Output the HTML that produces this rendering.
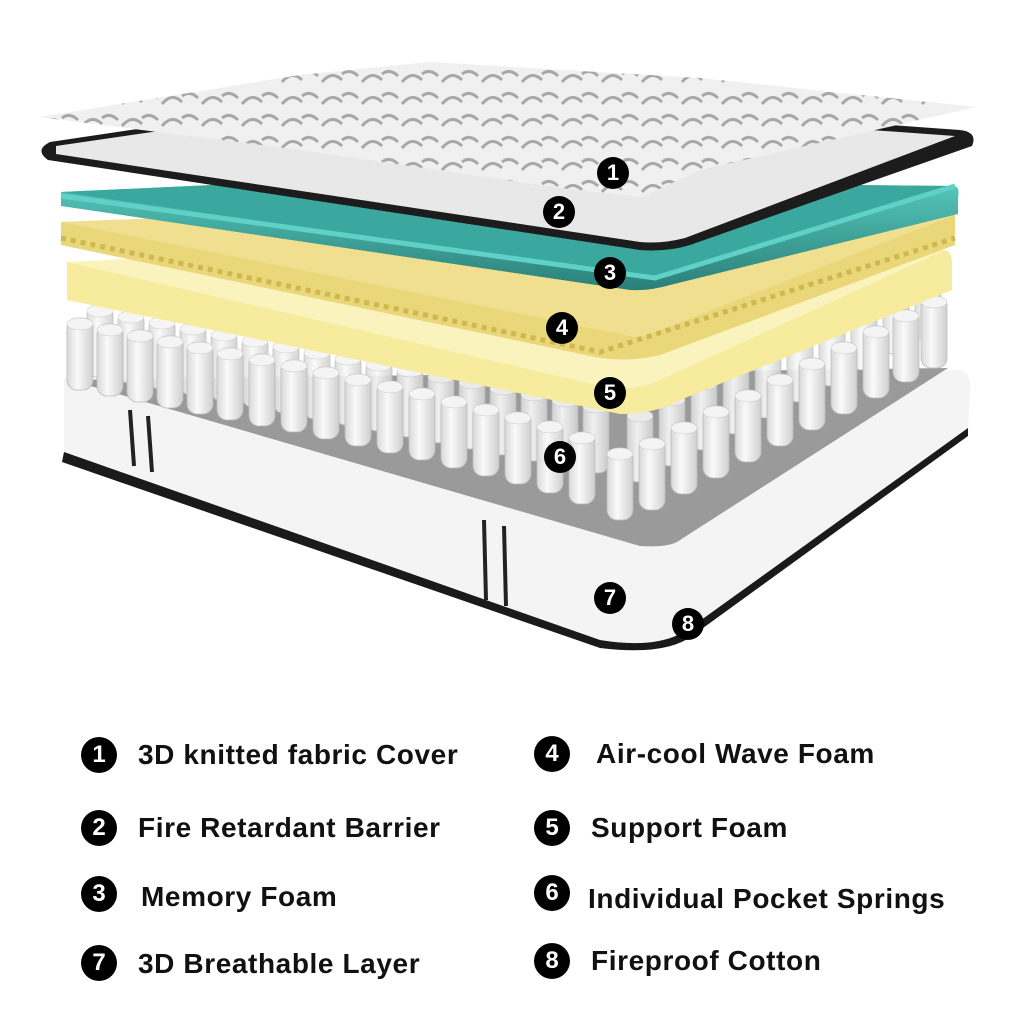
<!DOCTYPE html>
<html><head><meta charset="utf-8"><style>
body{margin:0;background:#fff;width:1024px;height:1024px;overflow:hidden;font-family:"Liberation Sans",sans-serif}
.lg{position:absolute;font-weight:bold;font-size:28px;letter-spacing:0.6px;color:#111;white-space:nowrap}
.c{position:absolute;width:36px;height:36px;border-radius:50%;background:#000;color:#fff;font-weight:bold;font-size:24px;text-align:center;line-height:36px}
.d{width:32px;height:32px;line-height:32px;font-size:22px}
</style></head><body>
<svg width="1024" height="1024" style="position:absolute;left:0;top:0">
<defs>
<linearGradient id="sp" x1="0" x2="1"><stop offset="0" stop-color="#d8d8d8"/><stop offset=".4" stop-color="#fafafa"/><stop offset="1" stop-color="#cfcfcf"/></linearGradient>
<g id="s"><rect x="-13" y="0" width="26" height="72" rx="10" fill="url(#sp)" stroke="#bbb" stroke-width="0.8"/><ellipse cx="0" cy="6" rx="13" ry="6" fill="#f4f4f4" stroke="#ccc" stroke-width="0.6"/></g>
<pattern id="q" width="40" height="22" patternUnits="userSpaceOnUse"><rect width="40" height="22" fill="#f0f0f0"/><path d="M2 16 Q12 4 22 14 M22 8 Q30 2 38 10" stroke="#a8a8a8" stroke-width="3" fill="none"/></pattern>
<linearGradient id="tg" x1="0" y1="0" x2="0" y2="1"><stop offset="0" stop-color="#57c9bd"/><stop offset="1" stop-color="#2a7f78"/></linearGradient>
</defs>
<!-- base -->
<path d="M64 378 L960 370 Q972 374 970 390 L968 432 L690 630 Q675 645 650 644 L600 642 L64 458 Z" fill="#f4f4f4"/>
<path d="M64 452 L600 640 Q660 650 690 628 L968 428 L968 436 L692 636 Q665 656 600 648 L62 462 Z" fill="#1a1a1a"/>
<path d="M70 380 L948 368 L680 540 Q670 548 640 546 Z" fill="#9a9a9a"/>
<path d="M130 410 L134 466 M148 416 L152 472 M484 520 L486 600 M504 526 L506 606" stroke="#222" stroke-width="4"/>
<!-- back springs -->
<g opacity=".9">
<use href="#s" x="100" y="305"/><use href="#s" x="131" y="311"/><use href="#s" x="162" y="317"/><use href="#s" x="193" y="323"/><use href="#s" x="224" y="329"/><use href="#s" x="255" y="335"/><use href="#s" x="286" y="341"/><use href="#s" x="317" y="347"/><use href="#s" x="348" y="353"/><use href="#s" x="379" y="359"/><use href="#s" x="410" y="365"/><use href="#s" x="441" y="371"/><use href="#s" x="472" y="377"/><use href="#s" x="503" y="383"/><use href="#s" x="534" y="389"/><use href="#s" x="565" y="395"/><use href="#s" x="596" y="401"/>
<use href="#s" x="640" y="410"/><use href="#s" x="672" y="394"/><use href="#s" x="704" y="378"/><use href="#s" x="736" y="362"/><use href="#s" x="768" y="346"/><use href="#s" x="800" y="330"/><use href="#s" x="832" y="314"/><use href="#s" x="864" y="298"/><use href="#s" x="896" y="282"/><use href="#s" x="928" y="268"/>
</g>
<!-- front springs -->
<use href="#s" x="80" y="318"/><use href="#s" x="110" y="324"/><use href="#s" x="140" y="330"/><use href="#s" x="170" y="336"/><use href="#s" x="200" y="342"/><use href="#s" x="230" y="348"/><use href="#s" x="262" y="354"/><use href="#s" x="294" y="360"/><use href="#s" x="326" y="367"/><use href="#s" x="358" y="374"/><use href="#s" x="390" y="381"/><use href="#s" x="422" y="388"/><use href="#s" x="454" y="396"/><use href="#s" x="486" y="404"/><use href="#s" x="518" y="412"/><use href="#s" x="550" y="421"/><use href="#s" x="582" y="432"/><use href="#s" x="620" y="448"/>
<use href="#s" x="652" y="438"/><use href="#s" x="684" y="422"/><use href="#s" x="716" y="406"/><use href="#s" x="748" y="390"/><use href="#s" x="780" y="374"/><use href="#s" x="812" y="358"/><use href="#s" x="844" y="342"/><use href="#s" x="876" y="326"/><use href="#s" x="906" y="310"/><use href="#s" x="934" y="296"/>
<!-- support foam -->
<path d="M67 262 L320 250 L945 250 Q952 252 952 262 L952 290 L680 400 Q655 414 620 414 L67 300 Z" fill="#f7ec9e"/>
<path d="M67 262 L320 250 L945 250 L660 380 Q640 390 610 388 Z" fill="#fbf3bd"/>
<!-- wave foam -->
<path d="M61 222 L320 212 L955 215 L955 245 L660 355 Q630 362 600 358 L61 245 Z" fill="#e9d77a"/>
<path d="M61 222 L320 212 L955 215 L640 338 Z" fill="#f0df8e"/>
<path d="M61 238 L600 352 L955 238" stroke="#d0b850" stroke-width="5" stroke-dasharray="5 5" fill="none"/>
<!-- memory foam teal -->
<path d="M61 192 L320 180 L955 186 Q960 188 958 198 L958 214 L670 285 Q650 291 630 290 L61 206 Z" fill="url(#tg)"/>
<path d="M61 192 L320 180 L955 186 L655 278 Z" fill="#3aa89f"/>
<path d="M61 196 L655 278 L955 186" stroke="#5fd1c6" stroke-width="5" fill="none"/>
<!-- barrier -->
<path d="M50 142 L400 90 L960 130 Q978 132 972 146 L690 245 Q668 252 640 250 L48 160 Q34 150 50 142 Z" fill="#1c1c1c"/>
<path d="M56 146 L400 96 L955 136 L685 238 Q662 244 640 242 L56 154 Z" fill="#e8e8e8"/>
<!-- quilted cover -->
<path d="M39 117 L300 75 L430 62 L700 78 L976 107 L700 170 L642 197 L560 188 L300 150 Z" fill="url(#q)"/>
</svg>
<div class="c d" style="left:597px;top:157px">1</div>
<div class="c d" style="left:543px;top:196px">2</div>
<div class="c d" style="left:594px;top:257px">3</div>
<div class="c d" style="left:546px;top:312px">4</div>
<div class="c d" style="left:594px;top:377px">5</div>
<div class="c d" style="left:544px;top:441px">6</div>
<div class="c d" style="left:594px;top:582px">7</div>
<div class="c d" style="left:672px;top:608px">8</div>

<div class="c" style="left:81px;top:737px">1</div><div class="lg" style="left:138px;top:739px">3D knitted fabric Cover</div>
<div class="c" style="left:81px;top:810px">2</div><div class="lg" style="left:138px;top:812px">Fire Retardant Barrier</div>
<div class="c" style="left:81px;top:876px">3</div><div class="lg" style="left:141px;top:881px">Memory Foam</div>
<div class="c" style="left:81px;top:945px">7</div><div class="lg" style="left:138px;top:948px">3D Breathable Layer</div>
<div class="c" style="left:534px;top:736px">4</div><div class="lg" style="left:596px;top:738px">Air-cool Wave Foam</div>
<div class="c" style="left:534px;top:810px">5</div><div class="lg" style="left:591px;top:812px">Support Foam</div>
<div class="c" style="left:534px;top:875px">6</div><div class="lg" style="left:588px;top:883px">Individual Pocket Springs</div>
<div class="c" style="left:534px;top:943px">8</div><div class="lg" style="left:591px;top:945px">Fireproof Cotton</div>
</body></html>
